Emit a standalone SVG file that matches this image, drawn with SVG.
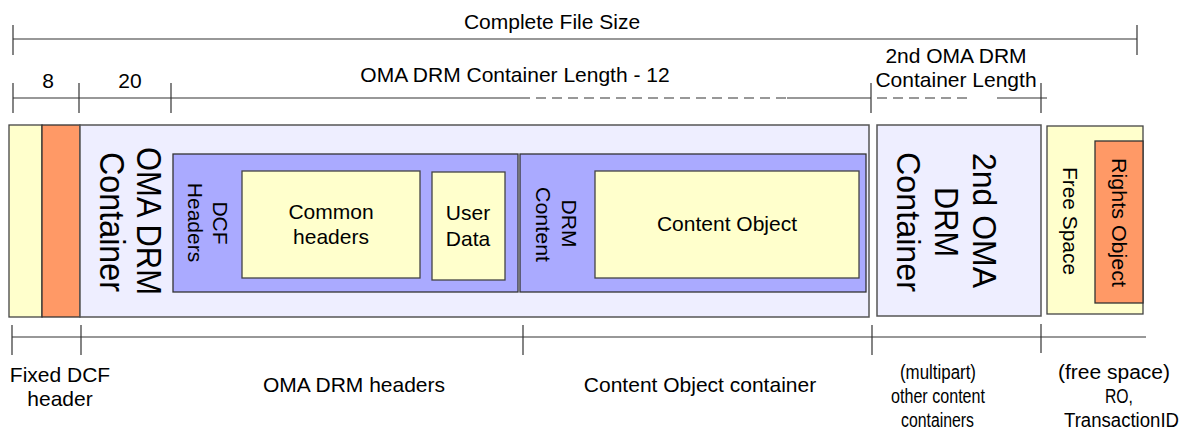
<svg xmlns="http://www.w3.org/2000/svg" width="1187" height="432" viewBox="0 0 1187 432">
<style>
text{font-family:"Liberation Sans",Arial,sans-serif;font-size:21px;fill:#000}
.m{text-anchor:middle}
.n{font-size:20px}
.dim{stroke:#333;stroke-width:1.2;fill:none}
.dash{stroke:#333;stroke-width:1.2;fill:none;stroke-dasharray:10 6}
.yel{fill:#ffffcc;stroke:#444;stroke-width:1.3}
.org{fill:#ff9966;stroke:#333;stroke-width:1.3}
.lav{fill:#eeeeff;stroke:#555;stroke-width:1.5}
.blu{fill:#aaaaff;stroke:#333;stroke-width:1.3}
.big{font-size:35px}
.big2{font-size:33px}
</style>
<rect width="1187" height="432" fill="#ffffff"/>
<g id="connectors">
<line class="dim" x1="13" y1="39" x2="1137" y2="39"/>
<line class="dim" x1="13" y1="25" x2="13" y2="55"/>
<line class="dim" x1="1137" y1="25" x2="1137" y2="55"/>
<line class="dim" x1="13" y1="98" x2="520" y2="98"/>
<line class="dash" x1="520" y1="98" x2="787" y2="98"/>
<line class="dim" x1="787" y1="98" x2="871" y2="98"/>
<line class="dash" x1="877" y1="98" x2="967" y2="98"/>
<line class="dim" x1="997" y1="98" x2="1047" y2="98"/>
<line class="dim" x1="13" y1="83" x2="13" y2="113"/>
<line class="dim" x1="79" y1="83" x2="79" y2="113"/>
<line class="dim" x1="171" y1="83" x2="171" y2="113"/>
<line class="dim" x1="871" y1="83" x2="871" y2="113"/>
<line class="dim" x1="1041" y1="83" x2="1041" y2="113"/>
<line class="dim" x1="12" y1="337" x2="1146" y2="337"/>
<line class="dim" x1="12" y1="325" x2="12" y2="355"/>
<line class="dim" x1="81" y1="325" x2="81" y2="355"/>
<line class="dim" x1="523" y1="325" x2="523" y2="355"/>
<line class="dim" x1="872" y1="325" x2="872" y2="355"/>
<line class="dim" x1="1041" y1="324" x2="1041" y2="353"/>
</g>
<g id="dimension-labels">
<text class="m" x="552" y="29">Complete File Size</text>
<text class="m" x="48" y="88">8</text>
<text class="m" x="130" y="88">20</text>
<text class="m" x="515" y="82">OMA DRM Container Length - 12</text>
<text class="m" x="956" y="63">2nd OMA DRM</text>
<text class="m" x="956" y="87">Container Length</text>
<text class="m" x="60" y="382">Fixed DCF</text>
<text class="m" x="60" y="406">header</text>
<text class="m" x="354" y="392">OMA DRM headers</text>
<text class="m" x="700" y="392">Content Object container</text>
<text class="n" x="900" y="379" textLength="76" lengthAdjust="spacingAndGlyphs">(multipart)</text>
<text class="n" x="891" y="403" textLength="94" lengthAdjust="spacingAndGlyphs">other content</text>
<text class="n" x="901" y="427" textLength="73" lengthAdjust="spacingAndGlyphs">containers</text>
<text class="n" x="1058" y="379" textLength="112" lengthAdjust="spacingAndGlyphs">(free space)</text>
<text class="n" x="1105" y="403" textLength="28" lengthAdjust="spacingAndGlyphs">RO,</text>
<text class="n" x="1064" y="427" textLength="115" lengthAdjust="spacingAndGlyphs">TransactionID</text>
</g>
<g id="fixed-dcf-header">
<rect class="yel" x="9" y="125" width="33" height="192"/>
<rect class="org" x="42" y="125" width="38" height="192"/>
</g>
<g id="oma-drm-container">
<rect class="lav" x="80" y="125" width="789" height="192"/>
<text class="m big" x="137" y="221" transform="rotate(90 137 221)" textLength="148" lengthAdjust="spacingAndGlyphs">OMA DRM</text>
<text class="m big" x="100" y="222" transform="rotate(90 100 222)" textLength="140" lengthAdjust="spacingAndGlyphs">Container</text>
</g>
<g id="dcf-headers">
<rect class="blu" x="173" y="154" width="345" height="138"/>
<text class="m" x="213" y="223" transform="rotate(90 213 223)">DCF</text>
<text class="m" x="188" y="222.5" transform="rotate(90 188 222.5)">Headers</text>
</g>
<g id="common-headers">
<rect class="yel" x="242" y="171" width="178" height="107"/>
<text class="m" x="331" y="219">Common</text>
<text class="m" x="331" y="244">headers</text>
</g>
<g id="user-data">
<rect class="yel" x="432" y="172" width="73" height="108"/>
<text class="m" x="468" y="220">User</text>
<text class="m" x="468" y="246">Data</text>
</g>
<g id="drm-content">
<rect class="blu" x="520" y="154" width="346" height="138"/>
<text class="m" x="562" y="223.5" transform="rotate(90 562 223.5)">DRM</text>
<text class="m" x="536" y="224.5" transform="rotate(90 536 224.5)" textLength="75" lengthAdjust="spacingAndGlyphs">Content</text>
</g>
<g id="content-object">
<rect class="yel" x="595" y="171" width="264" height="107"/>
<text class="m" x="727" y="231">Content Object</text>
</g>
<g id="second-oma-drm-container">
<rect class="lav" x="877" y="125" width="164" height="191"/>
<text class="m big2" x="973" y="220.5" transform="rotate(90 973 220.5)" textLength="135" lengthAdjust="spacingAndGlyphs">2nd OMA</text>
<text class="m big2" x="935" y="222" transform="rotate(90 935 222)" textLength="70" lengthAdjust="spacingAndGlyphs">DRM</text>
<text class="m big2" x="897" y="222" transform="rotate(90 897 222)" textLength="140" lengthAdjust="spacingAndGlyphs">Container</text>
</g>
<g id="free-space">
<rect class="yel" x="1047" y="126" width="96" height="188"/>
<text class="m" x="1063" y="221" transform="rotate(90 1063 221)" textLength="108" lengthAdjust="spacingAndGlyphs">Free Space</text>
</g>
<g id="rights-object">
<rect class="org" x="1095" y="141" width="48" height="162"/>
<text class="m" x="1112" y="222.5" transform="rotate(90 1112 222.5)" textLength="129" lengthAdjust="spacingAndGlyphs">Rights Object</text>
</g>
</svg>
